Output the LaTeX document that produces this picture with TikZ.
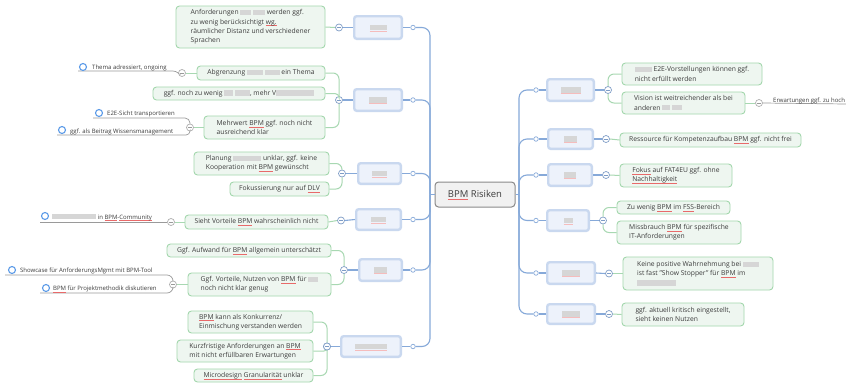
\documentclass[tikz,border=0pt]{standalone}
\usepackage{fontspec}
\setmainfont{Open Sans}
\usetikzlibrary{calc}

\definecolor{gbd}{HTML}{A3D7AC}
\definecolor{gbf}{HTML}{EEF6F0}
\definecolor{glc}{HTML}{A8D8B2}
\definecolor{tbd}{HTML}{C9D8EF}
\definecolor{tbf}{HTML}{EDF2FB}
\definecolor{blc}{HTML}{86A9D9}
\definecolor{cbd}{HTML}{8A8A8A}
\definecolor{cbf}{HTML}{F1F1F1}
\definecolor{txt}{HTML}{3C3C3C}
\definecolor{llc}{HTML}{9A9A9A}
\definecolor{lcirc}{HTML}{5C9BE8}
\definecolor{mnc}{HTML}{7E9CC6}
\definecolor{sqc}{HTML}{E86A6A}
\definecolor{blurc}{HTML}{D6D6D6}

% red spell-check underline and greyed-out words
\newsavebox\sqbox
\newcommand\sq[1]{\sbox\sqbox{#1}\leavevmode\rlap{\textcolor{sqc}{\rule[-1.7pt]{\wd\sqbox}{0.4pt}}}\usebox\sqbox}
\newcommand\blr[1]{\textcolor{blurc}{\rule[-0.4pt]{#1pt}{5.2pt}}}
\newcommand\fs{\fontsize{6.75}{9.3}\selectfont}
\newcommand\ls{\fontsize{6}{7}\selectfont}

% green text box given by its corners
\newcommand\gnode[6]{\node[gbox,minimum width={#4-#2},minimum height={#5-#3}] (#1) at ({(#2+#4)/2},{(#3+#5)/2}) {#6};}
% blue topic box given by its corners
\newcommand\tnode[5]{\node[tbox,minimum width={#4-#2-2.4},minimum height={#5-#3-2.4}] (#1) at ({(#2+#4)/2},{(#3+#5)/2}) {};}

\tikzset{
  gbox/.style={draw=gbd, fill=gbf, line width=0.9, rounded corners=3.5, align=left, inner sep=0, font=\fs, text=txt},
  tbox/.style={draw=tbd, fill=tbf, line width=2.4, rounded corners=2.5, inner sep=0},
  cbox/.style={draw=cbd, fill=cbf, line width=1, rounded corners=3.5, inner sep=0, font=\fontsize{9.5}{11}\selectfont, text=txt},
  bline/.style={draw=blc, line width=1.1},
  gline/.style={draw=glc, line width=1},
  lline/.style={draw=llc, line width=0.7},
  dot/.style={circle, draw=blc, fill=white, line width=0.7, minimum size=4.5, inner sep=0},
  minus/.style={circle, draw=mnc, fill=white, line width=0.7, minimum size=7, inner sep=0,
    path picture={\draw[mnc,line width=0.6] ([xshift=-2pt]path picture bounding box.center) -- ([xshift=2pt]path picture bounding box.center);}},
  gminus/.style={minus, draw=llc!80, path picture={\draw[llc,line width=0.6] ([xshift=-2pt]path picture bounding box.center) -- ([xshift=2pt]path picture bounding box.center);}},
  lcirc/.style={circle, draw=lcirc, line width=1.1, minimum size=7, inner sep=0},
  lab/.style={font=\ls, text=txt, inner sep=0, anchor=west},
}

\begin{document}
\begin{tikzpicture}[x=1pt,y=-1pt]
\useasboundingbox (0,0) rectangle (846,389);
\fill[white] (0,0) rectangle (846,389);

% ---------- centre ----------
\node[cbox, minimum width=80, minimum height=25] (C) at (475,194.5) {\sq{BPM} Risiken};
\coordinate (lj) at (430,194.5);
\coordinate (rj) at (519,194.5);

% ---------- topic boxes ----------
\tnode{T1}{353}{15}{403}{40}
\tnode{T2}{353}{88}{403}{112}
\tnode{T3}{357}{162}{402}{185}
\tnode{T4}{355}{208}{402}{231}
\tnode{T5}{358}{258}{403}{282}
\tnode{T6}{340}{335}{402}{358}
\tnode{U1}{546}{78}{595}{102}
\tnode{U2}{547}{128}{594}{150}
\tnode{U3}{547}{163}{593}{187}
\tnode{U4}{546}{209}{590}{232}
\tnode{U5}{546}{261}{596}{285}
\tnode{U6}{546}{303}{596}{325}

\foreach \n/\w in {T1/17,T2/18,T3/15,T4/15,T5/13,T6/32,U1/20,U2/13,U3/12,U4/9,U5/18,U6/18}{
  \fill[blurc] ($(\n.center)+(-\w/2,-3)$) rectangle ++(\w,5.5);
  \draw[sqc!45,line width=0.8] ($(\n.center)+(-\w/2,3.6)$) -- ++(\w,0);
}

% ---------- joints ----------
\foreach \i/\y in {1/27.5,2/100,3/173.5,4/219.5,5/270,6/346.5}{
  \node[dot] (d\i) at (413,\y) {};
}
\foreach \i/\y in {1/90,2/139,3/175,4/220.5,5/273,6/314}{
  \node[dot] (e\i) at (536,\y) {};
}
\node[minus] (m1) at (339,27.5) {};
\node[minus] (m2) at (339,100) {};
\node[minus] (m3) at (342,173.5) {};
\node[minus] (m4) at (341,220.5) {};
\node[minus] (m5) at (344,270) {};
\node[minus] (m6) at (327,346.5) {};
\node[minus] (n1) at (608,90) {};
\node[minus] (n2) at (606,139) {};
\node[minus] (n3) at (606,175) {};
\node[minus] (n4) at (603,220.5) {};
\node[minus] (n5) at (609,273.5) {};
\node[minus] (n6) at (609,314) {};

% ---------- trunk ----------
\draw[bline] (C.west) -- (lj);
\draw[bline] (C.east) -- (rj);
\foreach \i in {1,...,6}{
  \draw[bline,rounded corners=8] (d\i.east) -| (lj);
  \draw[bline] (T\i.east) -- (d\i.west);
  \draw[bline] (T\i.west) -- (m\i.east);
  \draw[bline,rounded corners=8] (rj) |- (e\i.west);
  \draw[bline] (e\i.east) -- (U\i.west);
  \draw[bline] (U\i.east) -- (n\i.west);
}

% ---------- left text boxes ----------
\gnode{A1}{176}{6}{325}{48}{Anforderungen \blr{11} \blr{12} werden ggf.\\zu wenig berücksichtigt \sq{wg.}\\räumlicher Distanz und verschiedener\\Sprachen}
\gnode{B1}{197}{66}{325}{80}{Abgrenzung \blr{16} \blr{15} ein Thema}
\gnode{B2}{153}{87}{325}{100}{ggf. noch zu wenig \blr{9} \blr{15}, mehr V\blr{38}}
\gnode{B3}{204}{116}{325}{139}{Mehrwert \sq{BPM} ggf. noch nicht\\ausreichend klar}
\gnode{D1}{194}{152}{329}{175}{Planung \blr{28} unklar, ggf. keine\\Kooperation mit \sq{BPM} gewünscht}
\gnode{D2}{230}{182}{329}{196}{Fokussierung nur auf \sq{DLV}}
\gnode{F1}{185}{215}{328}{229}{Sieht Vorteile \sq{BPM} wahrscheinlich nicht}
\gnode{G1}{167}{244}{331}{257}{Ggf. Aufwand für \sq{BPM} allgemein unterschätzt}
\gnode{G2}{188}{273}{331}{296}{Ggf. Vorteile, Nutzen von \sq{BPM} für \blr{10}\\noch nicht klar genug}
\gnode{H1}{188}{311}{313}{333}{\sq{BPM} kann als Konkurrenz/\\Einmischung verstanden werden}
\gnode{H2}{177}{340}{313}{362}{Kurzfristige Anforderungen an \sq{BPM}\\mit nicht erfüllbaren Erwartungen}
\gnode{H3}{194}{369}{313}{382}{\sq{Microdesign} \sq{Granularität} unklar}

% ---------- right text boxes ----------
\gnode{P1}{622}{63}{762}{85}{\blr{17} E2E-Vorstellungen können ggf.\\nicht erfüllt werden}
\gnode{P2}{622}{92}{745}{114}{Vision ist weitreichender als bei\\anderen \blr{8} \blr{10}}
\gnode{Q1}{620}{133}{801}{147}{Ressource für Kompetenzaufbau \sq{BPM} ggf. nicht frei}
\gnode{R1}{620}{164}{732}{187}{\sq{Fokus} auf FAT4EU ggf. ohne\\\sq{Nachhaltigkeit}}
\gnode{S1}{617}{201}{730}{214}{Zu wenig \sq{BPM} im \sq{FSS}-Bereich}
\gnode{S2}{617}{221}{741}{244}{Missbrauch \sq{BPM} für spezifische\\IT-Anforderungen}
\gnode{V1}{623}{257}{773}{290}{Keine positive Wahrnehmung bei \blr{16}\\ist fast "Show Stopper" für \sq{BPM} im\\\blr{39}}
\gnode{W1}{622}{303}{744}{326}{ggf. aktuell kritisch eingestellt,\\sieht keinen Nutzen}

% ---------- green connectors ----------
\draw[gline] (A1.east) -- (m1.west);
\draw[gline,rounded corners=6] (B1.east) -| (m2.north);
\draw[gline,rounded corners=4] (B2.east) -| (m2.north);
\draw[gline,rounded corners=6] (B3.east) -| (m2.south);
\draw[gline,rounded corners=6] (D1.east) -| (m3.north);
\draw[gline,rounded corners=6] (D2.east) -| (m3.south);
\draw[gline] (F1.east) -- (m4.west);
\draw[gline,rounded corners=6] (G1.east) -| (m5.north);
\draw[gline,rounded corners=6] (G2.east) -| (m5.south);
\draw[gline,rounded corners=6] (H1.east) -| (m6.north);
\draw[gline,rounded corners=3] (H2.east) -| (m6.south);
\draw[gline,rounded corners=6] (H3.east) -| (m6.south);

\draw[gline,rounded corners=6] (n1.north) |- (P1.west);
\draw[gline,rounded corners=6] (n1.south) |- (P2.west);
\draw[gline] (n2.east) -- (Q1.west);
\draw[gline] (n3.east) -- (R1.west);
\draw[gline,rounded corners=6] (n4.north) |- (S1.west);
\draw[gline,rounded corners=6] (n4.south) |- (S2.west);
\draw[gline] (n5.east) -- (V1.west);
\draw[gline] (n6.east) -- (W1.west);
\node[minus] at (m6) {};

% ---------- side notes ----------
\node[gminus] (k1) at (182,73) {};
\node[gminus] (k2) at (190,127.5) {};
\node[gminus] (k3) at (171,222) {};
\node[gminus] (k4) at (173,284.5) {};
\node[gminus] (k5) at (759,103) {};
\draw[gline] (B1.west) -- (k1.east);
\draw[gline] (B3.west) -- (k2.east);
\draw[gline] (F1.west) -- (k3.east);
\draw[gline] (G2.west) -- (k4.east);
\draw[gline] (P2.east) -- (k5.west);

\draw[lline,rounded corners=3] (78,71) -- (176,71) -- (k1.west);
\node[lcirc] at (83,67) {};
\node[lab] at (92,67.5) {Thema adressiert, ongoing};

\draw[lline,rounded corners=5] (93,118) -| (k2.north);
\node[lcirc] at (99,113) {};
\node[lab] at (107,113.5) {E2E-Sicht transportieren};
\draw[lline,rounded corners=4] (57,135) -| (k2.south);
\node[lcirc] at (62,130) {};
\node[lab] at (70,131.5) {ggf. als Beitrag Wissensmanagement};

\draw[lline] (40,222) -- (k3.west);
\node[lcirc] at (45,216) {};
\node[lab] at (52,217.5) {\blr{44} in \sq{BPM}-\sq{Community}};

\draw[lline,rounded corners=6] (5,275) -| (k4.north);
\node[lcirc] at (12,270) {};
\node[lab] at (20,271) {Showcase für AnforderungsMgmt mit BPM-Tool};
\draw[lline,rounded corners=6] (40,293) -| (k4.south);
\node[lcirc] at (46,288) {};
\node[lab] at (53,289.5) {\sq{BPM} für Projektmethodik diskutieren};

\draw[lline] (k5.east) -- (846,104);
\node[lab] at (773,100.5) {Erwartungen ggf. zu hoch};
\end{tikzpicture}
\end{document}
